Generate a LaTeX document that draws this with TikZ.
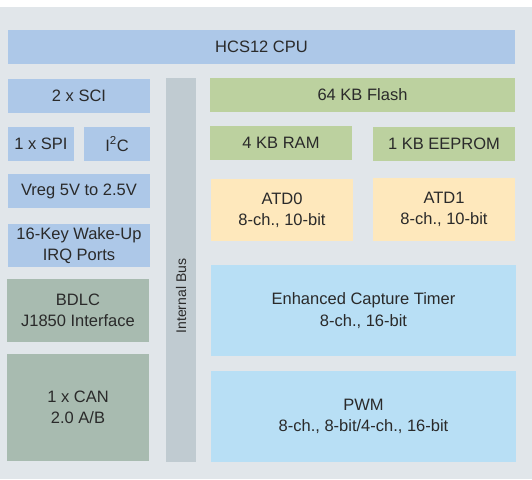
\documentclass[tikz,border=0pt]{standalone}
\usepackage{fontspec}
\setmainfont{Liberation Sans}
\definecolor{bgcol}{HTML}{E1E6EA}
\definecolor{cpucol}{HTML}{ADC8E8}
\definecolor{memcol}{HTML}{BCD19F}
\definecolor{atdcol}{HTML}{FEE8BC}
\definecolor{timcol}{HTML}{B8DFF5}
\definecolor{buscol}{HTML}{C0CBD1}
\definecolor{netcol}{HTML}{A8BBB0}
\definecolor{txtcol}{HTML}{2A2A2A}
\begin{document}
\begin{tikzpicture}[x=1pt,y=-1pt,
    blk/.style n args={2}{inner sep=0pt,align=center,text=txtcol,
      minimum width=#1,minimum height=#2,
      font=\fontsize{16.5}{21.3}\selectfont}]

\useasboundingbox (0,0) rectangle (532,479);
	\fill[bgcol] (0,7) rectangle (532,479);
	% CPU and left column
	\node[blk={507}{34},fill=cpucol] (cpu) at (261.5,47) {HCS12 CPU};
	\node[blk={142}{34},fill=cpucol] (sci) at (79,96) {2 x SCI};
	\node[blk={66}{34},fill=cpucol] (spi) at (41,144) {1 x SPI};
	\node[blk={66}{34},fill=cpucol] (iic) at (117,144) {I\textsuperscript{2}C};
	\node[blk={142}{34},fill=cpucol] (vreg) at (79,191) {Vreg 5V to 2.5V};
	\node[blk={142}{43},fill=cpucol] (wake) at (79,245.5) {16-Key Wake-Up\\IRQ Ports};
	\node[blk={142}{63},fill=netcol] (bdlc) at (78,310.5) {BDLC\\J1850 Interface};
	\node[blk={142}{107},fill=netcol] (can) at (78,407.5) {1 x CAN\\2.0 A/B};
	% bus
	\node[blk={30}{384},fill=buscol] (bus) at (181,270) {};
	\node[rotate=90,text=txtcol,font=\fontsize{14}{16}\selectfont] (buslbl) at (181,296) {Internal Bus};
	% right column
	\node[blk={305}{34},fill=memcol] (flash) at (362.5,95) {64 KB Flash};
	\node[blk={142}{34},fill=memcol] (ram) at (281,143) {4 KB RAM};
	\node[blk={142}{34},fill=memcol] (eeprom) at (444,144) {1 KB EEPROM};
	\node[blk={142}{62},fill=atdcol] (atd0) at (282,210) {ATD0\\8-ch., 10-bit};
	\node[blk={142}{63},fill=atdcol] (atd1) at (444,209.5) {ATD1\\8-ch., 10-bit};
	\node[blk={305}{91},fill=timcol] (ect) at (363.5,310.5) {Enhanced Capture Timer\\8-ch., 16-bit};
	\node[blk={305}{91},fill=timcol] (pwm) at (363.5,416.5) {PWM\\8-ch., 8-bit/4-ch., 16-bit};

\end{tikzpicture}
\end{document}
